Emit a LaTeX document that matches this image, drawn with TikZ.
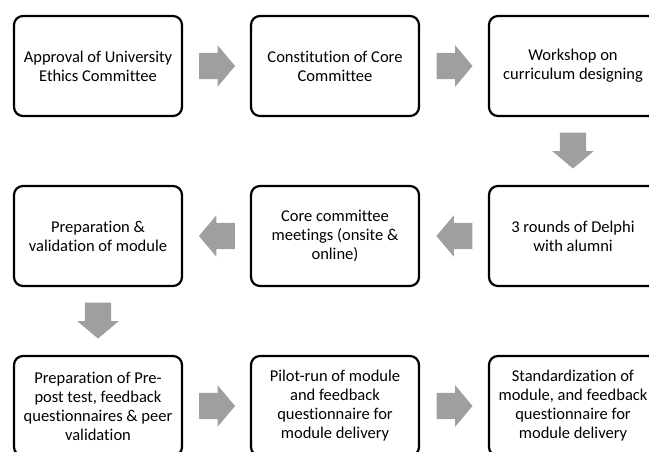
\documentclass[tikz,border=0pt]{standalone}
\usepackage{fontspec}
\setmainfont[Ligatures=NoCommon]{Carlito}
\usetikzlibrary{shapes.arrows,calc}
\tikzstyle{stage}=[draw=black,line width=2.2pt,rounded corners=9pt,minimum width=168pt,minimum height=100pt,align=center,font=\fontsize{16.5}{19}\selectfont]
\tikzstyle{blockarrow}=[single arrow,fill=gray!75,draw=none,minimum height=36pt,single arrow head extend=7.5pt,single arrow tip angle=100]
\tikzstyle{goright}=[blockarrow,inner xsep=0,inner ysep=13pt,xshift=-5pt]
\tikzstyle{goleft}=[blockarrow,shape border rotate=180,inner xsep=0,inner ysep=13pt,xshift=6pt]
\tikzstyle{godown}=[blockarrow,shape border rotate=270,inner xsep=13pt,inner ysep=0,yshift=6pt]
\begin{document}
\begin{tikzpicture}[x=1pt,y=-1pt]
\useasboundingbox (0,0) rectangle (649,452);

\node[stage] (ethics) at (98,66) {Approval of University\\Ethics Committee};
\node[stage] (core) at (335,66) {Constitution of Core\\Committee};
\node[stage] (workshop) at (573,66) {Workshop on\\curriculum designing};
\node[stage] (delphi) at (573,236) {3 rounds of Delphi\\with alumni};
\node[stage] (meetings) at (335,236) {Core committee\\meetings (onsite \&\\online)};
\node[stage] (module) at (98,236) {Preparation \&\\validation of module};
\node[stage] (prepost) at (98,406) {Preparation of Pre-\\post test, feedback\\questionnaires \& peer\\validation};
\node[stage] (pilot) at (335,406) {Pilot-run of module\\and feedback\\questionnaire for\\module delivery};
\node[stage] (standard) at (573,406) {Standardization of\\module, and feedback\\questionnaire for\\module delivery};

\foreach \a/\b/\s in {ethics/core/goright,core/workshop/goright,workshop/delphi/godown,delphi/meetings/goleft,meetings/module/goleft,module/prepost/godown,prepost/pilot/goright,pilot/standard/goright}{
	\node[\s] (\a-\b) at ($(\a)!0.5!(\b)$) {};
}

\end{tikzpicture}
\end{document}
